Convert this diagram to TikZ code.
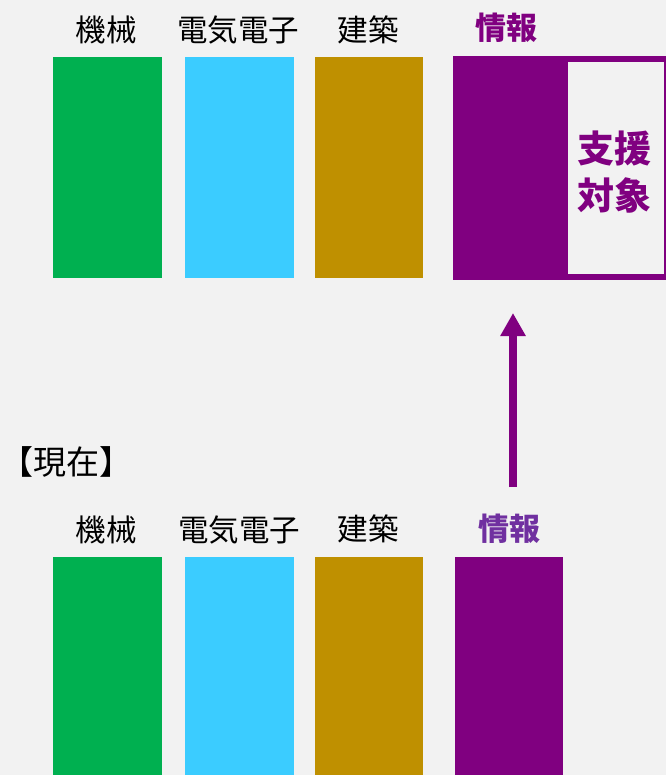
\documentclass[tikz,border=0pt]{standalone}
\usepackage{fontspec}
\setmainfont{Noto Sans CJK JP}
\usetikzlibrary{arrows.meta}
\definecolor{bg}{HTML}{F2F2F2}
\definecolor{cgreen}{HTML}{00B050}
\definecolor{ccyan}{HTML}{3BCCFF}
\definecolor{cgold}{HTML}{BF9000}
\definecolor{cpurple}{HTML}{800080}
\definecolor{clpurple}{HTML}{7030A0}
\begin{document}
\begin{tikzpicture}[x=1pt,y=-1pt,
  bar/.style={draw=none,minimum width=109pt,inner sep=0pt,anchor=north west},
  lbl/.style={font=\fontsize{30.5}{32}\selectfont,inner sep=0pt,text=black}]
\fill[bg] (0,0) rectangle (666,775);
\useasboundingbox (0,0) rectangle (666,775);
% top row
\node[bar,fill=cgreen,minimum height=221pt] (tg) at (53,57) {};
\node[bar,fill=ccyan,minimum height=221pt] (tc) at (185,57) {};
\node[bar,fill=cgold,minimum height=221pt,minimum width=108pt] (tb) at (315,57) {};
\node[bar,fill=cpurple,minimum width=213pt,minimum height=224pt] (tp) at (453,56) {};
\node[bar,fill=bg,minimum width=96pt,minimum height=212pt] (tin) at (568,62) {};
\node[lbl] (tl1) at (106,30) {機械};
\node[lbl] (tl2) at (238,30) {電気電子};
\node[lbl] (tl3) at (368,30) {建築};
\node[lbl,text=cpurple,font=\fontsize{31}{32}\selectfont\bfseries] (tl4) at (506,28) {情報};
\node[text=cpurple,font=\fontsize{37}{47}\selectfont\bfseries,align=center,inner sep=0pt] (sup) at (614,172) {支援\\対象};
% label
\node[lbl,anchor=west,font=\fontsize{33}{34}\selectfont] (now) at (0,462) {【現在】};
% bottom row
\node[bar,fill=cgreen,minimum height=218pt] (bg1) at (53,557) {};
\node[bar,fill=ccyan,minimum height=218pt] (bc) at (185,557) {};
\node[bar,fill=cgold,minimum height=218pt,minimum width=108pt] (bb) at (315,557) {};
\node[bar,fill=cpurple,minimum height=218pt,minimum width=108pt] (bp) at (455,557) {};
\node[lbl] (bl1) at (106,530) {機械};
\node[lbl] (bl2) at (239,530) {電気電子};
\node[lbl] (bl3) at (368,529) {建築};
\node[lbl,text=clpurple,font=\fontsize{31}{32}\selectfont\bfseries] (bl4) at (509,529) {情報};
% arrow
\coordinate (as) at (513,487);
\coordinate (ae) at (513,313);
\draw[cpurple,line width=7.5pt,-{Triangle[width=24pt,length=23pt]}] (as) -- (ae);
\end{tikzpicture}
\end{document}
